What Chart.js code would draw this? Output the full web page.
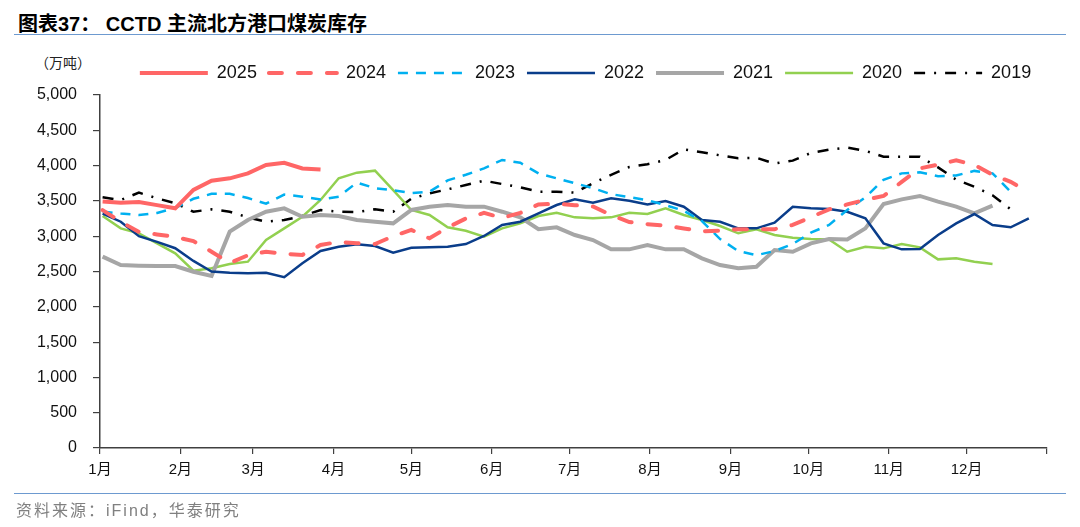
<!DOCTYPE html>
<html>
<head>
<meta charset="utf-8">
<script src="https://cdn.jsdelivr.net/npm/chart.js@4/dist/chart.umd.min.js"></script>
<style>
    body { margin: 0; width: 1080px; height: 527px; background: #fff; position: relative; overflow: hidden;
           font-family: "Liberation Sans", "Noto Sans CJK SC", sans-serif; }
    #title { position: absolute; left: 18px; top: 8px; font-size: 20px; font-weight: bold; color: #000; white-space: pre; }
    .rule { position: absolute; left: 14px; width: 1052px; height: 0; border-top: 1.5px solid #6d9ad0; }
    #unit { position: absolute; left: 35px; top: 52px; font-size: 14px; color: #222; }
    #source { position: absolute; left: 16px; top: 497px; font-size: 16px; color: #808080; letter-spacing: 2px; }
    #c { position: absolute; left: 0; top: 0; }
</style>
</head>
<body>
<div id="title">图表37： CCTD 主流北方港口煤炭库存</div>
<div class="rule" style="top:34px"></div>
<div id="unit">（万吨）</div>
<canvas id="c" width="1080" height="527"></canvas>
<div class="rule" style="top:493px"></div>
<div id="source">资料来源：iFind，华泰研究</div>
<script>
// month starts (day of year) and their labels
const monthStarts = [0, 31, 59, 90, 120, 151, 181, 212, 243, 273, 304, 334, 365];
const monthLabels = ['1月', '2月', '3月', '4月', '5月', '6月', '7月', '8月', '9月', '10月', '11月', '12月', ''];

// weekly observation days
const weekDays = [1, 8, 15, 22, 29, 36, 43, 50, 57, 64, 71, 78, 85, 92, 99, 106, 113, 120, 127, 134,
    141, 148, 155, 162, 169, 176, 183, 190, 197, 204, 211, 218, 225, 232, 239, 246, 253, 260, 267, 274,
    281, 288, 295, 302, 309, 316, 323, 330, 337, 344, 351, 358];

// 万吨
const s2025 = [3490, 3475, 3485, 3440, 3395, 3655, 3785, 3820, 3890, 4010, 4040, 3960, 3945];
const s2024 = [3370, 3205, 3060, 3025, 2990, 2930, 2780, 2620, 2730, 2780, 2750, 2735, 2875, 2920, 2900, 2890, 3000, 3090, 2970, 3125,
    3250, 3330, 3260, 3330, 3450, 3460, 3440, 3420, 3300, 3200, 3170, 3150, 3110, 3070, 3080, 3100, 3100, 3100, 3160, 3270,
    3380, 3450, 3515, 3570, 3770, 3960, 4015, 4075, 4010, 3870, 3770, 3620];
const s2023 = [3350, 3320, 3300, 3330, 3400, 3530, 3600, 3600, 3540, 3460, 3590, 3560, 3520, 3560, 3760, 3680, 3650, 3610, 3630, 3790,
    3870, 3960, 4080, 4040, 3890, 3820, 3750, 3680, 3595, 3555, 3510, 3440, 3360, 3215, 2960, 2790, 2730, 2790, 2890, 3050,
    3160, 3370, 3550, 3800, 3890, 3905, 3850, 3860, 3925, 3890, 3630];
const s2022 = [3320, 3205, 3000, 2920, 2830, 2650, 2500, 2483, 2474, 2483, 2420, 2616, 2790, 2850, 2885, 2861, 2766, 2837, 2842, 2851,
    2889, 3003, 3159, 3205, 3324, 3442, 3522, 3475, 3537, 3503, 3451, 3498, 3418, 3229, 3205, 3111, 3111, 3191, 3418, 3395,
    3385, 3347, 3253, 2899, 2814, 2818, 3017, 3182, 3314, 3159, 3126, 3253];
const s2021 = [2710, 2592, 2582, 2577, 2577, 2497, 2436, 3064, 3229, 3347, 3395, 3276, 3300, 3286, 3229, 3205, 3182, 3371, 3418, 3442,
    3418, 3418, 3347, 3267, 3098, 3126, 3017, 2946, 2814, 2814, 2875, 2814, 2814, 2686, 2592, 2545, 2568, 2804, 2780, 2899,
    2960, 2955, 3111, 3456, 3522, 3570, 3489, 3418, 3324, 3432];
const s2020 = [3286, 3111, 3041, 2899, 2758, 2511, 2545, 2606, 2639, 2946, 3111, 3276, 3513, 3820, 3900, 3928, 3654, 3371, 3300, 3126,
    3078, 2993, 3111, 3182, 3286, 3333, 3267, 3253, 3267, 3333, 3314, 3395, 3300, 3229, 3144, 3041, 3098, 3017, 2979, 2960,
    2955, 2780, 2851, 2828, 2889, 2842, 2672, 2686, 2639, 2606];
const s2019 = [3551, 3513, 3617, 3537, 3466, 3347, 3381, 3347, 3267, 3205, 3229, 3286, 3371, 3347, 3340, 3381, 3347, 3530, 3607, 3664,
    3725, 3786, 3739, 3692, 3631, 3631, 3617, 3750, 3870, 3980, 4020, 4080, 4230, 4190, 4145, 4105, 4110, 4030, 4070, 4180,
    4225, 4255, 4210, 4126, 4126, 4126, 3975, 3800, 3700, 3580, 3380];

const toPoints = (vals) => vals.map((v, i) => ({ x: weekDays[i], y: v }));
const fontFamily = '"Liberation Sans", "Noto Sans CJK SC", sans-serif';

function line(label, vals, color, width, dash, cap) {
    return {
        label: label,
        data: toPoints(vals),
        borderColor: color,
        backgroundColor: color,
        borderWidth: width,
        borderDash: dash || [],
        borderCapStyle: cap || 'butt',
        pointRadius: 0,
        tension: 0,
        fill: false
    };
}

// legend sits a bit higher and further right than Chart.js would put it
const nudgeLegend = {
    id: 'nudgeLegend',
    afterLayout(chart) {
        const lg = chart.legend;
        lg.top -= 3;
        lg.bottom -= 3;
        lg.left += 62;
        lg.right += 62;
    }
};

const ctx = document.getElementById('c').getContext('2d');
const chart = new Chart(ctx, {
    type: 'line',
    data: {
        datasets: [
            line('2025', s2025, '#ff6666', 4),
            line('2024', s2024, '#ff6666', 4, [13, 16], 'round'),
            line('2023', s2023, '#00b0f0', 2.5, [10, 8]),
            line('2022', s2022, '#0a3d8a', 2.5),
            line('2021', s2021, '#a6a6a6', 4),
            line('2020', s2020, '#92d050', 2.5),
            line('2019', s2019, '#000000', 2.5, [11, 9, 2, 9])
        ]
    },
    options: {
        responsive: false,
        animation: false,
        devicePixelRatio: 1,
        layout: { padding: { left: 0, right: 33, top: 55, bottom: 39 } },
        plugins: {
            legend: {
                position: 'top',
                labels: {
                    usePointStyle: true,
                    pointStyleWidth: 68,
                    padding: 12,
                    color: '#111',
                    font: { family: fontFamily, size: 18 },
                    generateLabels: (chart) => chart.data.datasets.map((ds, i) => ({
                        text: ds.label,
                        datasetIndex: i,
                        hidden: false,
                        pointStyle: 'line',
                        strokeStyle: ds.borderColor,
                        fillStyle: ds.borderColor,
                        lineWidth: ds.borderWidth,
                        lineDash: ds.borderDash,
                        lineCap: ds.borderCapStyle,
                        fontColor: '#111'
                    }))
                }
            },
            tooltip: { enabled: false }
        },
        scales: {
            x: {
                type: 'linear',
                min: 0,
                max: 365,
                afterBuildTicks: (scale) => { scale.ticks = monthStarts.map(v => ({ value: v })); },
                afterFit: (scale) => { scale.height = 40; },
                ticks: {
                    autoSkip: false,
                    maxRotation: 0,
                    padding: 7,
                    color: '#111',
                    font: { family: fontFamily, size: 15 },
                    callback: (value) => monthLabels[monthStarts.indexOf(value)]
                },
                grid: { drawOnChartArea: false, drawTicks: true, tickLength: 6, color: '#404040', lineWidth: 1.2 },
                border: { display: true, color: '#404040', width: 1.5 }
            },
            y: {
                min: 0,
                max: 5000,
                afterFit: (scale) => { scale.width = 100; },
                ticks: {
                    stepSize: 500,
                    padding: 16,
                    color: '#111',
                    font: { family: fontFamily, size: 16 },
                    callback: (value) => value.toLocaleString('en-US')
                },
                grid: { drawOnChartArea: false, drawTicks: true, tickLength: 7, color: '#404040', lineWidth: 1.2 },
                border: { display: true, color: '#404040', width: 1.5 }
            }
        }
    },
    plugins: [nudgeLegend]
});
</script>
</body>
</html>
